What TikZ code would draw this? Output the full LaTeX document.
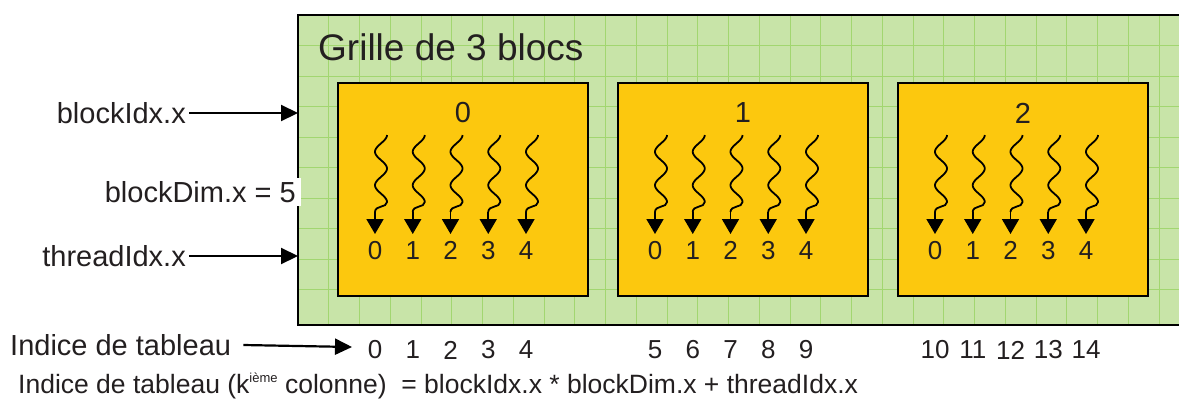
\documentclass[tikz,border=0pt]{standalone}
\usepackage{fontspec}
\setmainfont{Liberation Sans}
\usepackage{tikz}
\usetikzlibrary{calc, positioning, arrows.meta}
\usepackage{color}
\definecolor{grillevert}{RGB}{200,228,168}
\definecolor{grilleligne}{RGB}{162,214,112}
\definecolor{blocjaune}{RGB}{252,200,14}
\definecolor{texte}{RGB}{35,31,32}
\newcommand\gbloc[3]{\fill[fill=blocjaune, draw=black, line width=2pt, shift={(#1,#2)}] (0,0) rectangle (250,213);\node[lbl] (bloc#3) at (#1+125,#2+30) {#3};}
\newcommand\wthread[3]{\node[chiffre, anchor=north] (n#2) at (#1,238) {#3};\draw[line width=1.8pt] plot[domain=0:67, samples=60, smooth] ({#1+6+6*cos(10.746*\x)},{135+\x}) .. controls ({#1+12},{208}) and ({#1},{205}) .. (#1,212) coordinate (t#2);\draw[line width=1.8pt, -{Triangle[width=17pt,length=15pt]}, shorten >=4pt] (t#2) -- (n#2.north);}

\begin{document}
\begin{tikzpicture}[x=1pt, y=-1pt, every node/.style={text=texte, inner sep=3pt},
  lbl/.style={font=\fontsize{29}{32}\selectfont},
  chiffre/.style={font=\fontsize{26}{28}\selectfont},
  fleche/.style={line width=2.2pt, -{Triangle[width=16pt,length=17pt]}}]
\clip (0,0) rectangle (1179,405);

% grille
\fill[grillevert] (298,15) rectangle (1190,325);
\foreach \k in {1,...,29} \draw[grilleligne, line width=0.9pt] (298+30.75*\k,15) -- (298+30.75*\k,325);
\foreach \k in {1,...,9} \draw[grilleligne, line width=0.9pt] (298,15+30.5*\k) -- (1190,15+30.5*\k);
\draw[line width=2pt] (1190,15) -- (298,15) -- (298,325) -- (1190,325);
\node[font=\fontsize{37}{40}\selectfont, anchor=west] (titre) at (315,47) {Grille de 3 blocs};

\gbloc{338}{83}{0};
\gbloc{618}{83}{1};
\gbloc{898}{83}{2};

\foreach \nb in {0,1,2}
  \foreach \nt in {0,...,4}
    {\wthread{375+280*\nb+37.75*\nt}{\nb\nt}{\nt};}

% etiquettes a gauche
\node[lbl, anchor=east] (bidx) at (189,113) {blockIdx.x};
\coordinate (bidxfin) at (298,113);
\draw[fleche] (bidx) -- (bidxfin);
\node[lbl, anchor=east, fill=white, inner xsep=5pt] (bdim) at (301,192) {blockDim.x = 5};
\node[lbl, anchor=east] (tidx) at (189,256) {threadIdx.x};
\coordinate (tidxfin) at (298,256);
\draw[fleche] (tidx) -- (tidxfin);

% indices du tableau
\node[lbl, anchor=west] (idx) at (7,345) {Indice de tableau};
\coordinate (idxfin) at (352,347);
\draw[fleche] ([xshift=9pt]idx.east) -- (idxfin);
\foreach \nb in {0,1,2}
  \foreach \nt in {0,...,4}
    {\pgfmathtruncatemacro\ind{5*\nb+\nt}
     \node[chiffre] (i\nb\nt) at (375+280*\nb+37.75*\nt,350) {\ind};}

\node[font=\fontsize{26.5}{30}\selectfont, anchor=west] (formule) at (15,386) {Indice de tableau (k\raisebox{11pt}{\fontsize{13}{13}\selectfont ième} colonne)\ \ = blockIdx.x * blockDim.x + threadIdx.x};

\end{tikzpicture}
\end{document}
